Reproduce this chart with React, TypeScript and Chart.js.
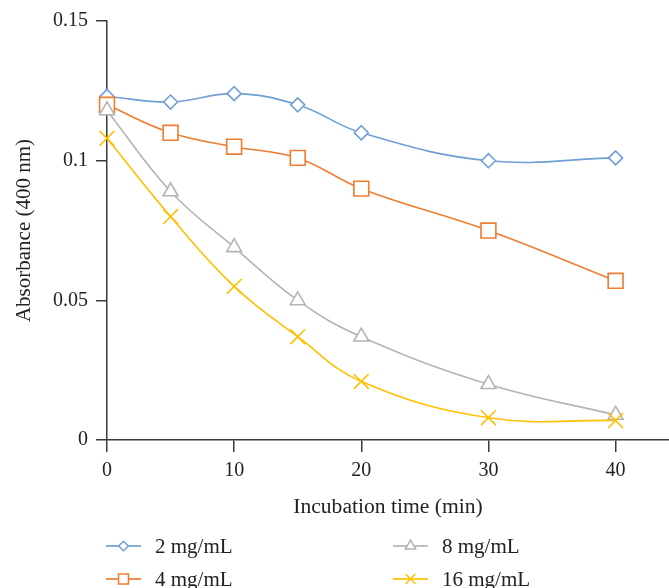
import React, { useEffect, useRef } from "react";
import { Chart, registerables } from "chart.js";
import { drawPoint } from "chart.js/helpers";

Chart.register(...registerables);

const timeMin = [0, 5, 10, 15, 20, 30, 40];
const conc2 = [0.123, 0.121, 0.124, 0.12, 0.11, 0.1, 0.101];
const conc4 = [0.12, 0.11, 0.105, 0.101, 0.09, 0.075, 0.057];
const conc8 = [0.118, 0.089, 0.069, 0.05, 0.037, 0.02, 0.009];
const conc16 = [0.108, 0.08, 0.055, 0.037, 0.021, 0.008, 0.007];
const seriesLabels = ["2 mg/mL", "4 mg/mL", "8 mg/mL", "16 mg/mL"];
const xTicks = [0, 10, 20, 30, 40];
const yTicks = [0, 0.05, 0.1, 0.15];
const xTitle = "Incubation time (min)";
const yTitle = "Absorbance (400 nm)";

const FONT = '"Liberation Serif", "Times New Roman", serif';
const AXIS = "#3a3a3a";
const TEXT = "#222";

const colors = ["#6f9fd6", "#ed7d31", "#b4b4b4", "#ffc000"];
const styles = ["rectRot", "rect", "triangle", "crossRot"];
const radii = [7, 10.5, 8.6, 10.5];
const legendRadii = [4.8, 7, 6, 7];

const legendPlugin = {
  id: "customLegend",
  afterDraw(chart: any) {
    const ctx = chart.ctx as CanvasRenderingContext2D;
    const colX = [106, 393];
    const rowY = [546, 579];
    chart.data.datasets.forEach((ds: any, i: number) => {
      const col = Math.floor(i / 2);
      const row = i % 2;
      const x0 = colX[col];
      const y = rowY[row];
      ctx.save();
      ctx.strokeStyle = ds.borderColor;
      ctx.globalAlpha = 0.85;
      ctx.lineWidth = 2;
      ctx.beginPath();
      ctx.moveTo(x0, y);
      ctx.lineTo(x0 + 35, y);
      ctx.stroke();
      ctx.globalAlpha = 1;
      ctx.fillStyle = "#ffffff";
      ctx.strokeStyle = ds.borderColor;
      ctx.lineWidth = 1.5;
      drawPoint(
        ctx,
        { pointStyle: ds.pointStyle, radius: legendRadii[i], borderWidth: 1.5, rotation: 0 } as any,
        x0 + 17.5,
        y
      );
      ctx.fillStyle = TEXT;
      ctx.font = `21px ${FONT}`;
      ctx.textBaseline = "middle";
      ctx.textAlign = "left";
      ctx.fillText(ds.label, x0 + 49, y + 1);
      ctx.restore();
    });
  },
};

export default function App() {
  const ref = useRef<HTMLCanvasElement | null>(null);

  useEffect(() => {
    if (!ref.current) return;
    const series = [conc2, conc4, conc8, conc16];
    const chart = new Chart(ref.current, {
      type: "line",
      data: {
        datasets: series.map((vals, i) => ({
          label: seriesLabels[i],
          data: timeMin.map((t, j) => ({ x: t, y: vals[j] })),
          borderColor: colors[i],
          backgroundColor: "#ffffff",
          pointBackgroundColor: "#ffffff",
          pointBorderColor: colors[i],
          pointStyle: styles[i] as any,
          pointRadius: radii[i],
          pointHoverRadius: radii[i],
          pointBorderWidth: 1.6,
          borderWidth: 1.6,
          tension: 0.4,
          fill: false,
          clip: false as any,
          order: 4 - i,
        })),
      },
      options: {
        animation: false,
        responsive: false,
        devicePixelRatio: 1,
        layout: { autoPadding: false, padding: { left: 0, right: 0, top: 21, bottom: 68 } },
        plugins: {
          legend: { display: false },
          tooltip: { enabled: false },
        },
        scales: {
          x: {
            type: "linear",
            min: 0,
            max: 44.2,
            afterBuildTicks: (scale: any) => {
              scale.ticks = xTicks.map((v) => ({ value: v }));
            },
            afterFit: (scale: any) => {
              scale.paddingRight = 0;
              scale.paddingLeft = 0;
            },
            grid: {
              drawOnChartArea: false,
              drawTicks: true,
              tickLength: 12,
              color: AXIS,
              lineWidth: 1.5,
            },
            border: { display: true, color: AXIS, width: 1.5 },
            ticks: {
              font: { family: FONT, size: 20 },
              color: TEXT,
              padding: 7,
              maxRotation: 0,
              callback: (v: any) => String(v),
            },
            title: {
              display: true,
              text: xTitle,
              font: { family: FONT, size: 21.6 },
              color: TEXT,
              padding: { top: 4, bottom: 0 },
            },
          },
          y: {
            type: "linear",
            min: 0,
            max: 0.15,
            afterBuildTicks: (scale: any) => {
              scale.ticks = yTicks.map((v) => ({ value: v }));
            },
            afterFit: (scale: any) => {
              scale.width = 107;
            },
            grid: {
              drawOnChartArea: false,
              drawTicks: true,
              tickLength: 11,
              color: AXIS,
              lineWidth: 1.5,
            },
            border: { display: true, color: AXIS, width: 1.5 },
            ticks: {
              font: { family: FONT, size: 20 },
              color: TEXT,
              padding: 8,
              callback: (v: any) => String(+Number(v).toFixed(2)),
            },
            title: {
              display: true,
              text: yTitle,
              font: { family: FONT, size: 21 },
              color: TEXT,
              padding: { top: 12, bottom: 0 },
            },
          },
        },
      },
      plugins: [legendPlugin],
    });
    return () => chart.destroy();
  }, []);

  return (
    <div style={{ position: "fixed", left: 0, top: 0, width: 669, height: 588, background: "#fff" }}>
      <canvas ref={ref} width={669} height={588} style={{ display: "block", width: 669, height: 588 }} />
    </div>
  );
}
